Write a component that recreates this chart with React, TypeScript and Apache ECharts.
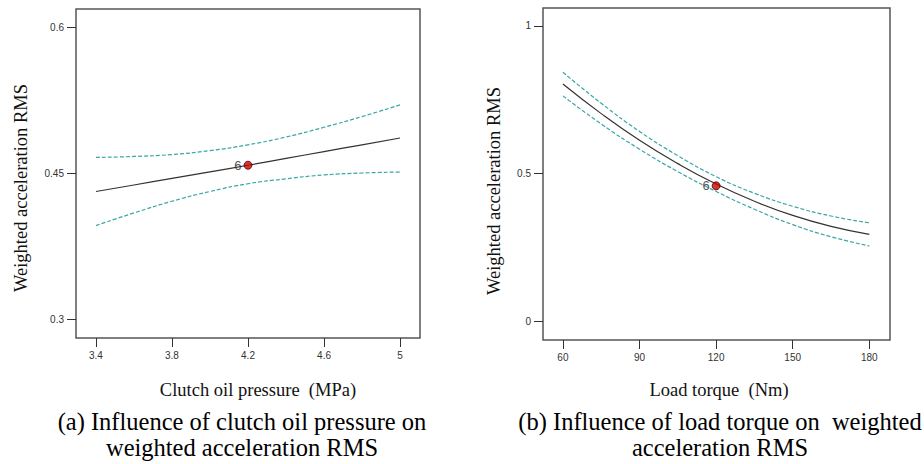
import React, { useEffect, useRef } from "react";
import * as echarts from "echarts";

// (a) Clutch oil pressure (MPa)
const pressureX = [3.4, 3.6, 3.8, 4.0, 4.2, 4.4, 4.6, 4.8, 5.0];
const pressureFit = [0.431, 0.4377, 0.4445, 0.4512, 0.458, 0.465, 0.472, 0.479, 0.486];
const pressureUpper = [0.466, 0.467, 0.469, 0.473, 0.479, 0.487, 0.497, 0.508, 0.52];
const pressureLower = [0.396, 0.409, 0.421, 0.431, 0.439, 0.444, 0.448, 0.45, 0.451];
const pressurePoint = [4.2, 0.458];
const pressureTicksX = [3.4, 3.8, 4.2, 4.6, 5];
const pressureTicksY = [0.3, 0.45, 0.6];

// (b) Load torque (Nm)
const torqueX = [60, 75, 90, 105, 120, 135, 150, 165, 180];
const torqueFit = [0.803, 0.703, 0.613, 0.534, 0.465, 0.407, 0.359, 0.322, 0.295];
const torqueUpper = [0.843, 0.738, 0.643, 0.561, 0.49, 0.434, 0.39, 0.357, 0.334];
const torqueLower = [0.763, 0.668, 0.583, 0.507, 0.44, 0.38, 0.328, 0.287, 0.256];
const torquePoint = [120, 0.459];
const torqueTicksX = [60, 90, 120, 150, 180];
const torqueTicksY = [0, 0.5, 1];

const yName = "Weighted acceleration RMS";
const xNameA = "Clutch oil pressure  (MPa)";
const xNameB = "Load torque  (Nm)";
const captionA = ["(a) Influence of clutch oil pressure on", "weighted acceleration RMS"];
const captionB = ["(b) Influence of load torque on  weighted", "acceleration RMS"];

const pair = (xs: number[], ys: number[]) => xs.map((x, i) => [x, ys[i]]);

export default function App() {
  const ref = useRef<HTMLDivElement>(null);
  useEffect(() => {
    document.body.style.margin = "0";
    const chart = echarts.init(ref.current!, undefined, { renderer: "svg" });
    const tickColor = "#333";
    const serif = "'Liberation Serif', 'Times New Roman', serif";
    const sans = "Arial, 'Liberation Sans', sans-serif";
    const xAxisBase = (idx: number, min: number, max: number, ticks: number[], name: string, gap: number, padding: number[]) => ({
      type: "value",
      gridIndex: idx,
      min,
      max,
      name,
      nameLocation: "middle",
      nameGap: gap,
      nameTextStyle: { fontFamily: serif, fontSize: 18.5, color: "#111", padding },
      axisLine: { show: false, onZero: false },
      axisTick: { show: true, length: 9, inside: false, customValues: ticks, lineStyle: { color: tickColor, width: 1 } },
      axisLabel: { customValues: ticks, fontSize: 10, color: "#333", fontFamily: sans, margin: 12 },
      splitLine: { show: false },
    });
    const yAxisBase = (idx: number, min: number, max: number, ticks: number[], gap: number, padding: number[]) => ({
      type: "value",
      gridIndex: idx,
      min,
      max,
      name: yName,
      nameLocation: "middle",
      nameGap: gap,
      nameTextStyle: { fontFamily: serif, fontSize: 18.5, color: "#111", padding },
      axisLine: { show: false, onZero: false },
      axisTick: { show: true, length: 9, inside: false, customValues: ticks, lineStyle: { color: tickColor, width: 1 } },
      axisLabel: { customValues: ticks, fontSize: 10, color: "#333", fontFamily: sans, margin: 12 },
      splitLine: { show: false },
    });
    const fitLine = (idx: number, data: number[][]) => ({
      type: "line",
      xAxisIndex: idx,
      yAxisIndex: idx,
      data,
      smooth: true,
      symbol: "none",
      lineStyle: { color: "#333", width: 1.2 },
    });
    const band = (idx: number, data: number[][]) => ({
      type: "line",
      xAxisIndex: idx,
      yAxisIndex: idx,
      data,
      smooth: true,
      symbol: "none",
      lineStyle: { color: "#3aa6a6", width: 1.2, type: [4, 2] },
    });
    const point = (idx: number, p: number[]) => ({
      type: "scatter",
      xAxisIndex: idx,
      yAxisIndex: idx,
      data: [p],
      symbolSize: 8,
      itemStyle: { color: "#cc0000", borderColor: "#550000", borderWidth: 1 },
      label: { show: true, position: "left", formatter: "6", fontSize: 13, color: "#222", distance: 2, fontFamily: sans },
      z: 5,
    });
    const captionText = (x: number, y: number, text: string) => ({
      type: "text",
      x,
      y,
      style: { text, fontFamily: serif, fontSize: 24.5, fill: "#000", textAlign: "center", textVerticalAlign: "middle" },
    });
    chart.setOption({
      animation: false,
      grid: [
        { left: 76, top: 9, width: 344, height: 329, show: true, borderColor: "#555", borderWidth: 1.5, backgroundColor: "#fff" },
        { left: 543, top: 8, width: 347, height: 332, show: true, borderColor: "#555", borderWidth: 1.5, backgroundColor: "#fff" },
      ],
      xAxis: [
        xAxisBase(0, 3.295, 5.105, pressureTicksX, xNameA, 42, [0, 0, 0, 20]),
        xAxisBase(1, 52.2, 188.1, torqueTicksX, xNameB, 40, [0, 0, 0, 5]),
      ],
      yAxis: [
        yAxisBase(0, 0.2805, 0.6185, pressureTicksY, 46, [0, 29, 0, 0]),
        yAxisBase(1, -0.062, 1.06, torqueTicksY, 40, [0, 34, 0, 0]),
      ],
      series: [
        band(0, pair(pressureX, pressureUpper)),
        band(0, pair(pressureX, pressureLower)),
        fitLine(0, pair(pressureX, pressureFit)),
        point(0, pressurePoint),
        band(1, pair(torqueX, torqueUpper)),
        band(1, pair(torqueX, torqueLower)),
        fitLine(1, pair(torqueX, torqueFit)),
        point(1, torquePoint),
      ],
      graphic: [
        captionText(242, 421, captionA[0]),
        captionText(242, 447, captionA[1]),
        captionText(720, 421, captionB[0]),
        captionText(720, 447, captionB[1]),
      ],
    });
    return () => chart.dispose();
  }, []);
  return <div ref={ref} style={{ width: 924, height: 464 }} />;
}
